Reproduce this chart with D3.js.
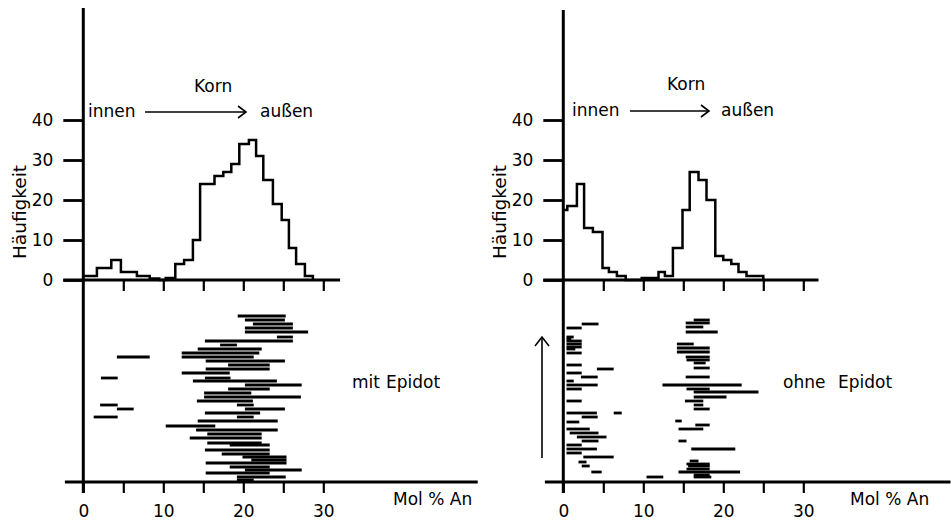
<!DOCTYPE html>
<html><head><meta charset="utf-8">
<script src="https://cdn.jsdelivr.net/npm/d3@7"></script>
<style>
html,body{margin:0;padding:0;background:#fff;}
svg{display:block;}
text{font-family:"DejaVu Sans",sans-serif;fill:#000;}
</style></head>
<body>
<svg id="chart" width="951" height="522"></svg>
<script>
// ---------- data ----------
const yTickValues = [0, 10, 20, 30, 40];
const xTickValues = [0, 5, 10, 15, 20, 25, 30];
const xLabelValues = [0, 10, 20, 30];

// histogram (Häufigkeit) – step edges (Mol % An) and counts
const leftEdges  = [0, 1.7, 3.5, 4.7, 6.7, 8.3, 9.5, 10.3, 11.5, 12.6, 13.7, 14.6, 16.4, 17.5, 18.5, 19.5, 20.7, 21.6, 22.5, 23.7, 24.8, 25.7, 26.6, 27.7, 28.7];
const leftCounts = [1, 3, 5, 2, 1, 0.4, 0, 0.5, 4, 5, 10, 24, 26, 27, 29, 34, 35, 31, 25, 19, 15, 8, 4, 1, 0];
const rightEdges  = [0, 0.5, 1.7, 2.6, 3.7, 4.9, 5.7, 6.7, 7.8, 9.8, 11.9, 12.7, 13.7, 14.9, 15.8, 16.9, 17.9, 19.0, 20.0, 21.0, 21.9, 22.9, 25.0];
const rightCounts = [17.5, 18.5, 24, 13, 12, 3, 2, 1, 0, 0.5, 2, 1, 8, 17.5, 27, 25, 20, 6, 5, 4, 2, 1, 0];

// zoning ranges per grain (row position, from, to in Mol % An)
const leftRow  = [83, 81, 79, 77, 75, 72.5, 70.5, 68.5, 66.5, 64.5, 62.5, 62.5, 60.5, 58.5, 56.5, 54.5, 52, 52, 50.5, 48.5, 46.5, 44.5, 42.5, 40.5, 38.5, 38.5, 36.5, 36.5, 34.5, 32.5, 32.5, 30.5, 28, 26, 24, 22, 19.5, 18.5, 16, 14, 12.5, 11, 9.5, 7.5, 6, 4.5, 2.5, 1];
const leftFrom = [19.3, 20.2, 21.2, 20.2, 20.2, 24.2, 15.2, 17.1, 14.3, 12.3, 4.2, 12.3, 15.3, 18.1, 15.3, 12.3, 2.2, 15.2, 13.7, 20.2, 18.1, 15.1, 15.1, 14.2, 2.1, 19.2, 4.2, 20.2, 15.2, 1.3, 19.2, 14.3, 10.3, 14.1, 15.5, 13.3, 15.5, 18.3, 15.2, 17.3, 19.9, 21.0, 15.3, 18.3, 20.2, 15.3, 19.2, 19.2];
const leftTo   = [25.3, 25.2, 26.2, 26.2, 28.1, 26.2, 26.2, 19.2, 22.3, 22.0, 8.3, 21.3, 25.2, 23.3, 23.3, 18.3, 4.3, 18.4, 24.2, 27.3, 23.3, 21.0, 27.2, 21.2, 4.3, 21.3, 6.3, 25.2, 22.1, 4.3, 21.3, 24.3, 16.5, 24.3, 22.3, 22.3, 22.3, 23.3, 23.3, 23.3, 25.4, 25.4, 25.4, 23.3, 27.3, 23.3, 25.3, 21.3];

const rightRow  = [79, 77, 72.5, 71.5, 70.5, 69, 67.5, 66.5, 64.5, 58.5, 56.5, 54.5, 52.5, 50.5, 48.5, 46.5, 40.5, 34.5, 34.5, 32.5, 30, 26.5, 24.5, 22.5, 20.5, 18.5, 16.5, 14.5, 12.5, 10, 8, 5, 2.5,
                   81, 79.5, 77.5, 75, 69, 67, 65, 62.5, 61, 59.5, 57, 52.5, 48.5, 46.5, 45, 42.5, 40.5, 38.5, 36.5, 30.5, 28.5, 26.5, 20.5, 16.5, 10.5, 9, 8, 6.5, 5, 3.5, 2.5];
const rightFrom = [2.3, 0.4, 0.4, 0.4, 0.4, 0.4, 0.4, 0.4, 0.4, 0.4, 4.2, 0.4, 2.2, 0.4, 0.4, 0.4, 0.4, 0.4, 6.3, 2.3, 0.4, 0.4, 0.8, 1.7, 2.3, 0.4, 0.4, 0.4, 2.5, 1.9, 2.3, 3.5, 10.4,
                   16.3, 15.3, 15.3, 15.3, 14.2, 14.2, 14.2, 15.3, 15.4, 16.3, 16.3, 15.3, 12.4, 15.4, 16.3, 16.3, 15.2, 16.3, 16.3, 14.0, 16.5, 14.4, 14.4, 16.0, 15.8, 15.4, 15.6, 15.4, 14.4, 16.3, 16.3];
const rightTo   = [4.4, 2.3, 1.3, 1.0, 2.3, 2.3, 2.3, 1.5, 2.3, 2.3, 6.3, 2.3, 4.3, 1.3, 4.3, 2.3, 2.3, 4.2, 7.3, 4.3, 2.0, 3.3, 4.4, 5.4, 4.4, 2.3, 4.2, 2.3, 6.3, 2.9, 3.3, 4.8, 12.5,
                   18.3, 18.3, 17.5, 19.3, 16.3, 18.3, 18.3, 18.3, 18.3, 17.8, 18.3, 18.3, 22.3, 18.3, 24.4, 20.4, 17.5, 17.5, 18.3, 14.8, 18.3, 17.5, 15.4, 21.5, 16.9, 18.3, 18.3, 18.3, 22.1, 18.3, 18.5];

// ---------- drawing ----------
const svg = d3.select("#chart");
const FS = 17;

function panel(opt) {
  const g = svg.append("g");
  const x = d3.scaleLinear().domain([0, 30]).range([opt.x0, opt.x0 + 240]);
  const yH = d3.scaleLinear().domain([0, 40]).range([280, 120]);
  const yB = d3.scaleLinear().domain([0, 100]).range([482, 282]);
  const AX = 2.8;

  // main vertical axis
  g.append("line").attr("x1", x(0)).attr("x2", x(0)).attr("y1", opt.top).attr("y2", 493)
    .attr("stroke", "#000").attr("stroke-width", 3);

  // y axis ticks for histogram
  const ya = d3.axisLeft(yH).tickValues(yTickValues).tickSize(20).tickPadding(10).tickFormat(d3.format("d"));
  const yg = g.append("g").attr("transform", `translate(${x(0)},0)`).call(ya);
  yg.select(".domain").remove();
  yg.selectAll(".tick line").attr("stroke", "#000").attr("stroke-width", AX);
  yg.selectAll(".tick text").style("font-size", FS + "px").style("font-family", "DejaVu Sans").attr("fill", "#000");

  // histogram baseline with downward ticks
  const ha = d3.axisBottom(x).tickValues(xTickValues.slice(1)).tickSize(11).tickSizeOuter(0).tickFormat("");
  const hg = g.append("g").attr("transform", "translate(0,280)").call(ha);
  hg.select(".domain").remove();
  hg.selectAll(".tick line").attr("stroke", "#000").attr("stroke-width", 2.2);
  g.append("line").attr("x1", x(-2.5)).attr("x2", x(opt.histEnd)).attr("y1", 280).attr("y2", 280)
    .attr("stroke", "#000").attr("stroke-width", AX);

  // bottom axis
  const ba = d3.axisBottom(x).tickValues(xTickValues).tickSize(11).tickSizeOuter(0).tickPadding(12)
    .tickFormat(d => xLabelValues.includes(d) ? d3.format("d")(d) : "");
  const bg = g.append("g").attr("transform", "translate(0,482)").call(ba);
  bg.select(".domain").remove();
  bg.selectAll(".tick line").attr("stroke", "#000").attr("stroke-width", 2.2);
  bg.selectAll(".tick text").style("font-size", FS + "px").style("font-family", "DejaVu Sans").attr("fill", "#000");
  g.append("line").attr("x1", x(-2.3)).attr("x2", x(opt.botEnd)).attr("y1", 482).attr("y2", 482)
    .attr("stroke", "#000").attr("stroke-width", AX);

  // histogram step line
  const pts = opt.edges.map((e, i) => [e, opt.counts[i]]);
  g.append("path").datum(pts)
    .attr("d", d3.line().x(d => x(d[0])).y(d => yH(d[1])).curve(d3.curveStepAfter))
    .attr("fill", "none").attr("stroke", "#000").attr("stroke-width", 2.5).attr("stroke-linejoin", "miter");

  // horizontal zoning bars
  const bars = opt.rows.map((r, i) => ({ r, a: opt.from[i], b: opt.to[i] }));
  g.selectAll("line.bar").data(bars).join("line").attr("class", "bar")
    .attr("x1", d => x(d.a)).attr("x2", d => x(d.b))
    .attr("y1", d => yB(d.r)).attr("y2", d => yB(d.r))
    .attr("stroke", "#000").attr("stroke-width", 2.8);

  // y label
  g.append("text").attr("transform", `translate(${opt.ylabX},212) rotate(-90)`)
    .attr("text-anchor", "middle").style("font-size", "18.5px").text("Häufigkeit");

  // Korn arrow annotation
  g.append("text").attr("x", opt.kornX).attr("y", opt.kornY).style("font-size", FS + "px").text("Korn");
  g.append("text").attr("x", opt.innenX).attr("y", opt.innenY).style("font-size", FS + "px").text("innen");
  g.append("text").attr("x", opt.aussenX).attr("y", opt.innenY).style("font-size", FS + "px").text("außen");
  const ay = opt.innenY - 5;
  g.append("line").attr("x1", opt.arrX1).attr("x2", opt.arrX2).attr("y1", ay).attr("y2", ay)
    .attr("stroke", "#000").attr("stroke-width", 1.6);
  g.append("path").attr("d", `M${opt.arrX2 - 8},${ay - 6} L${opt.arrX2},${ay} L${opt.arrX2 - 8},${ay + 6}`)
    .attr("fill", "none").attr("stroke", "#000").attr("stroke-width", 1.6);

  // labels in lower panel
  opt.words.forEach(w => g.append("text").attr("x", w[1]).attr("y", 388).style("font-size", FS + "px").text(w[0]));
  g.append("text").attr("x", opt.molX).attr("y", 505).style("font-size", FS + "px").text("Mol % An");
  return g;
}

panel({
  x0: 83.3, top: 8, histEnd: 32.1, botEnd: 49.3, ylabX: 26,
  edges: leftEdges, counts: leftCounts, rows: leftRow, from: leftFrom, to: leftTo,
  kornX: 194, kornY: 92, innenX: 88, innenY: 117, aussenX: 260, arrX1: 145, arrX2: 246,
  words: [["mit", 352], ["Epidot", 386]], molX: 393
});
const right = panel({
  x0: 563.3, top: 10, histEnd: 31.9, botEnd: 48.4, ylabX: 506,
  edges: rightEdges, counts: rightCounts, rows: rightRow, from: rightFrom, to: rightTo,
  kornX: 667, kornY: 90, innenX: 572, innenY: 116, aussenX: 721, arrX1: 630, arrX2: 709,
  words: [["ohne", 783], ["Epidot", 838]], molX: 850
});
// upward arrow in right lower panel
right.append("line").attr("x1", 542).attr("x2", 542).attr("y1", 458).attr("y2", 337)
  .attr("stroke", "#000").attr("stroke-width", 1.6);
right.append("path").attr("d", "M535,346 L542,337 L549,346").attr("fill", "none")
  .attr("stroke", "#000").attr("stroke-width", 1.6);
</script>
</body></html>
